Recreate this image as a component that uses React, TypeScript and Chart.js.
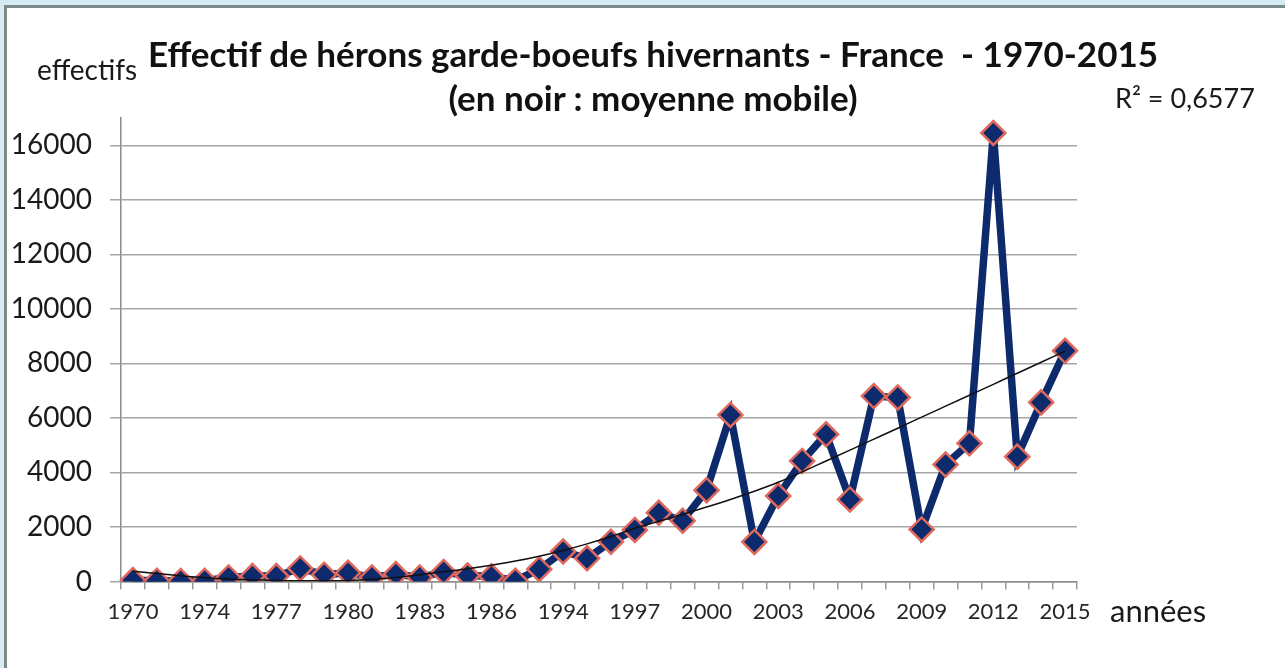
import React, { useEffect, useRef } from "react";
import { Chart, registerables } from "chart.js";

Chart.register(...registerables);

// Categories (Excel category axis: some early years missing)
const categories = [
  "1970", "1971", "1972", "1974", "1975", "1976", "1977", "1978", "1979", "1980",
  "1981", "1982", "1983", "1984", "1985", "1986", "1987", "1990", "1994", "1995",
  "1996", "1997", "1998", "1999", "2000", "2001", "2002", "2003", "2004", "2005",
  "2006", "2007", "2008", "2009", "2010", "2011", "2012", "2013", "2014", "2015",
];

// Tick labels shown on the x axis
const shownYears = [
  "1970", "1974", "1977", "1980", "1983", "1986", "1994", "1997", "2000",
  "2003", "2006", "2009", "2012", "2015",
];

// Wintering cattle egret counts
const effectifs = [
  50, 30, 20, 30, 150, 200, 200, 480, 250, 320,
  150, 270, 150, 350, 220, 190, 30, 450, 1100, 850,
  1460, 1890, 2520, 2230, 3350, 6110, 1450, 3140, 4420, 5400,
  3010, 6800, 6750, 1910, 4290, 5070, 16450, 4580, 6570, 8460,
];

// Black trend curve ("moyenne mobile")
const tendance = [
  380, 290, 210, 140, 90, 60, 40, 30, 30, 40,
  80, 150, 250, 360, 470, 600, 750, 930, 1140, 1380,
  1650, 1950, 2210, 2460, 2730, 3010, 3310, 3640, 4020, 4420,
  4820, 5220, 5620, 6030, 6430, 6830, 7230, 7640, 8040, 8450,
];

const yTicks = [0, 2000, 4000, 6000, 8000, 10000, 12000, 14000, 16000];

const FONT = "Lato, 'Open Sans', sans-serif";

export default function App() {
  const canvasRef = useRef<HTMLCanvasElement | null>(null);

  useEffect(() => {
    document.body.style.margin = "0";
    const canvas = canvasRef.current;
    if (!canvas) return;
    const chart = new Chart(canvas, {
      type: "line",
      data: {
        labels: categories,
        datasets: [
          {
            label: "moyenne mobile",
            data: tendance,
            borderColor: "#111111",
            borderWidth: 1.5,
            pointRadius: 0,
            cubicInterpolationMode: "monotone",
            order: 0,
          },
          {
            label: "effectifs",
            data: effectifs,
            borderColor: "#0c2a6c",
            borderWidth: 7.5,
            pointStyle: "rectRot",
            pointRadius: 12,
            pointBackgroundColor: "#0c2a6c",
            pointBorderColor: "#e0695c",
            pointBorderWidth: 2.5,
            tension: 0,
            order: 1,
          },
        ],
      },
      options: {
        responsive: false,
        animation: false,
        events: [],
        layout: { padding: { top: 118, right: 208, left: 0, bottom: 0 } },
        plugins: {
          legend: { display: false },
          title: { display: false },
          tooltip: { enabled: false },
        },
        scales: {
          x: {
            type: "category",
            offset: true,
            afterFit: (s: any) => {
              s.height = 86.5;
            },
            grid: {
              offset: true,
              drawOnChartArea: false,
              drawTicks: true,
              tickLength: 8,
              color: "#9a9a9a",
              lineWidth: 1.5,
            },
            border: { display: true, color: "#8c8c8c", width: 1.5 },
            ticks: {
              autoSkip: false,
              maxRotation: 0,
              minRotation: 0,
              padding: 9,
              color: "#262626",
              font: { family: FONT, size: 22 },
              callback: (_v: any, i: number) =>
                shownYears.includes(categories[i]) ? categories[i] : "",
            },
          },
          y: {
            min: 0,
            max: 17000,
            afterFit: (s: any) => {
              s.width = 121;
            },
            afterBuildTicks: (s: any) => {
              s.ticks = yTicks.map((v) => ({ value: v }));
            },
            grid: {
              color: "#a6a6a6",
              lineWidth: 1.5,
              drawTicks: true,
              tickLength: 11,
            },
            border: { display: true, color: "#8c8c8c", width: 1.5 },
            ticks: {
              padding: 18,
              color: "#1a1a1a",
              font: { family: FONT, size: 28 },
              callback: (v: any) => String(v),
            },
          },
        },
      },
    });
    return () => chart.destroy();
  }, []);

  const txt = (extra: React.CSSProperties): React.CSSProperties => ({
    position: "absolute",
    fontFamily: FONT,
    lineHeight: 1,
    color: "#1a1a1a",
    whiteSpace: "pre",
    ...extra,
  });

  return (
    <div
      style={{
        position: "relative",
        width: 1285,
        height: 668,
        background: "#ffffff",
        overflow: "hidden",
      }}
    >
      <canvas
        ref={canvasRef}
        width={1285}
        height={668}
        style={{ position: "absolute", left: 0, top: 0, width: 1285, height: 668 }}
      />
      {/* frame */}
      <div style={{ position: "absolute", left: 0, top: 0, width: 1285, height: 5, background: "#d5ebf3" }} />
      <div style={{ position: "absolute", left: 0, top: 0, width: 4, height: 668, background: "#d5ebf3" }} />
      <div style={{ position: "absolute", left: 4, top: 5, width: 1281, height: 3, background: "#7d8a88" }} />
      <div style={{ position: "absolute", left: 4, top: 5, width: 3, height: 663, background: "#7d8a88" }} />

      <div style={txt({ left: 0, width: 1306, top: 36, textAlign: "center", fontSize: 35, fontWeight: 700, color: "#111" })}>
        {"Effectif de hérons garde-boeufs hivernants - France  - 1970-2015"}
      </div>
      <div style={txt({ left: 0, width: 1306, top: 80, textAlign: "center", fontSize: 35, fontWeight: 700, color: "#111" })}>
        {"(en noir : moyenne mobile)"}
      </div>
      <div style={txt({ left: 37, top: 55, fontSize: 28 })}>{"effectifs"}</div>
      <div style={txt({ left: 1115, top: 84, fontSize: 27 })}>{"R² = 0,6577"}</div>
      <div style={txt({ left: 1110, top: 595, fontSize: 31 })}>{"années"}</div>
    </div>
  );
}
